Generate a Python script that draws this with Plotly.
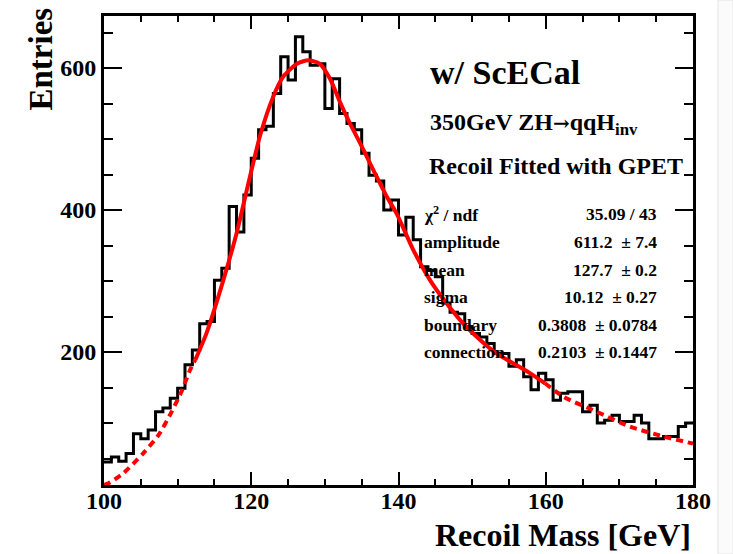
import plotly.graph_objects as go

# Histogram: recoil mass, 1 GeV bins from 100 to 180 GeV
bin_low = 100
bin_width = 1
entries = [45, 52, 46, 57, 85, 78, 90, 116, 121, 135,
           149, 182, 203, 240, 243, 301, 318, 405, 369, 421,
           473, 513, 518, 564, 616, 583, 644, 623, 604, 606,
           543, 585, 536, 522, 513, 480, 449, 441, 400, 414,
           365, 390, 358, 320, 315, 306, 269, 256, 254, 236,
           226, 221, 212, 198, 198, 180, 189, 165, 147, 170,
           161, 132, 142, 144, 144, 116, 125, 100, 104, 111,
           102, 102, 111, 100, 78, 78, 81, 81, 95, 100]

# GPET fit curve samples (x in GeV, function value)
fit_x = [100.0, 100.6, 102.6, 105.3, 107.4, 109.2, 110.6, 111.7, 112.4, 113.9,
         116.2, 118.0, 119.8, 121.2, 123.0, 124.35, 126.2, 127.75, 129.3, 130.7,
         132.05, 133.4, 134.8, 136.6, 138.4, 139.75, 142.0, 144.3, 146.5, 148.8,
         151.1, 153.3, 155.6, 157.9, 159.9, 162.4, 166.9, 171.4, 176.0, 180.0]
fit_y = [13, 15, 29, 57, 83, 116, 146, 175, 189, 226,
         301, 367, 446, 505, 560, 588, 606, 611, 606, 585,
         552, 522, 494, 456, 419, 395, 344, 301, 269, 240,
         217, 198, 184, 170, 156, 137, 116, 95, 81, 71]
fit_lo, fit_hi = 112.4, 159.9

stat_names = ["χ<sup>2</sup> / ndf", "amplitude", "mean", "sigma", "boundary", "connection"]
stat_values = ["35.09 / 43", "611.2  ± 7.4", "127.7  ± 0.2", "10.12  ± 0.27",
               "0.3808  ± 0.0784", "0.2103  ± 0.1447"]

FONT = "Liberation Serif"
W, H = 733, 554
L, R, T, B = 104, 40, 16, 69
PW, PH = W - L - R, H - T - B


def px(x):
    return (x - L) / PW


def py(y):
    return (H - B - y) / PH


edges = [bin_low + i * bin_width for i in range(len(entries) + 1)]

fig = go.Figure()
fig.add_trace(go.Scatter(
    x=edges, y=entries + [entries[-1]], mode="lines", line_shape="hv",
    line=dict(color="black", width=3), hoverinfo="skip", showlegend=False))

seg_in = [(x, y) for x, y in zip(fit_x, fit_y) if fit_lo <= x <= fit_hi]
seg_left = [(x, y) for x, y in zip(fit_x, fit_y) if x <= fit_lo]
seg_right = [(x, y) for x, y in zip(fit_x, fit_y) if x >= fit_hi]
for seg, dash in [(seg_left, "7px,5px"), (seg_right, "7px,5px"), (seg_in, "solid")]:
    fig.add_trace(go.Scatter(
        x=[p[0] for p in seg], y=[p[1] for p in seg], mode="lines",
        line=dict(color="#ff0000", width=4, dash=dash, shape="spline", smoothing=0.6),
        hoverinfo="skip", showlegend=False))

tickfont = dict(family=FONT, size=24, color="black", weight=700)
fig.update_xaxes(
    range=[100, 180], showgrid=False, zeroline=False,
    showline=True, linewidth=3, linecolor="black", mirror="ticks",
    ticks="inside", ticklen=13, tickwidth=2, tickcolor="black",
    tick0=100, dtick=20, tickfont=tickfont, ticklabelstandoff=-8,
    minor=dict(ticks="inside", ticklen=6, tickwidth=2, tickcolor="black", dtick=5, showgrid=False))
fig.update_yaxes(
    range=[12.7, 673.3], showgrid=False, zeroline=False,
    showline=True, linewidth=3, linecolor="black", mirror="ticks",
    ticks="inside", ticklen=18, tickwidth=2, tickcolor="black",
    tick0=0, dtick=200, tickfont=tickfont, ticklabelstandoff=0,
    minor=dict(ticks="inside", ticklen=9, tickwidth=2, tickcolor="black", dtick=50, showgrid=False))

ann = []


def text(s, x, y, size, xanchor="left"):
    ann.append(dict(text=s, x=px(x), y=py(y), xref="paper", yref="paper",
                    xanchor=xanchor, yanchor="middle", showarrow=False,
                    font=dict(family=FONT, size=size, color="black", weight=700)))


arrow = '<span style="font-family:\'DejaVu Serif\';font-size:20px">→</span>'
text("w/ ScECal", 428, 72, 34)
text("350GeV ZH" + arrow + "qqH<sub>inv</sub>", 428, 124, 24)
text("Recoil Fitted with GPET", 427, 166, 24)
rows_y = [214, 242, 270, 297, 325, 352]
for name, val, ry in zip(stat_names, stat_values, rows_y):
    text(name, 422, ry, 17.5)
    text(val, 659, ry, 17.5, xanchor="right")

text("Recoil Mass [GeV]", 693, 535, 32, xanchor="right")
ann.append(dict(text="Entries", x=px(41), y=py(6), xref="paper", yref="paper",
                xanchor="center", yanchor="top", textangle=-90, showarrow=False,
                font=dict(family=FONT, size=33, color="black", weight=700)))

fig.update_layout(
    width=W, height=H, margin=dict(l=L, r=R, t=T, b=B),
    paper_bgcolor="white", plot_bgcolor="white", annotations=ann,
    shapes=[dict(type="rect", xref="paper", yref="paper",
                 x0=px(718), x1=px(733), y0=py(0), y1=py(H),
                 fillcolor="#fbfbfb", line=dict(color="#e4e4e4", width=1), layer="below")])

fig.write_html("out.html")
